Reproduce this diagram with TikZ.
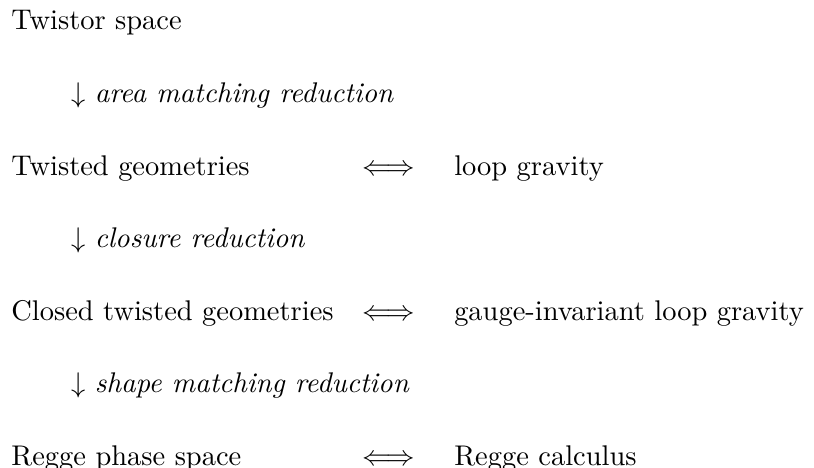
\documentclass[tikz,border=0pt]{standalone}
\usepackage{amsmath}
\begin{document}
\begin{tikzpicture}[x=1pt,y=1pt,
  txt/.style={anchor=base west, inner sep=0pt, outer sep=0pt}]
\useasboundingbox (0,0) rectangle (286,-164.1);
% left column
\node[txt] (n1) at (4,-10.5) {Twistor space};
\node[txt] (a1) at (25,-36.0) {$\downarrow$ \textit{area matching reduction}};
\node[txt] (n2) at (4,-61.5) {Twisted geometries};
\node[txt] (a2) at (25,-87.0) {$\downarrow$ \textit{closure reduction}};
\node[txt] (n3) at (4,-112.5) {Closed twisted geometries};
\node[txt] (a3) at (25,-138.0) {$\downarrow$ \textit{shape matching reduction}};
\node[txt] (n4) at (4,-163.5) {Regge phase space};
% equivalence arrows
\node[txt] (e2) at (127.3,-61.5) {$\Longleftrightarrow$};
\node[txt] (e3) at (127.3,-112.5) {$\Longleftrightarrow$};
\node[txt] (e4) at (127.3,-163.5) {$\Longleftrightarrow$};
% right column
\node[txt] (r2) at (159.6,-61.5) {loop gravity};
\node[txt] (r3) at (159.6,-112.5) {gauge-invariant loop gravity};
\node[txt] (r4) at (159.6,-163.5) {Regge calculus};
\end{tikzpicture}
\end{document}
